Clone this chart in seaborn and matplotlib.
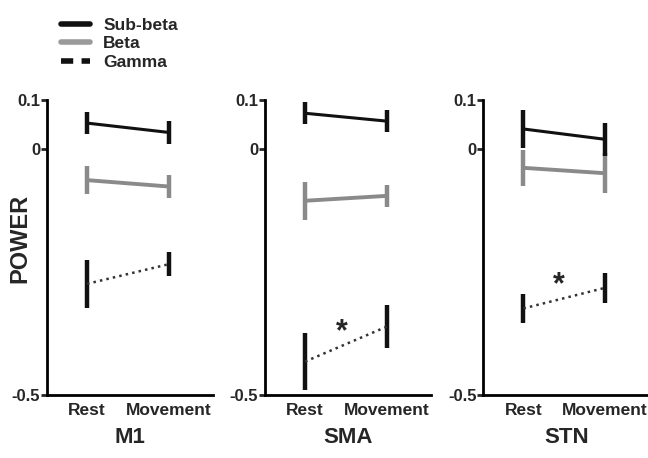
import matplotlib.pyplot as plt
import seaborn as sns
import numpy as np
import pandas as pd
from matplotlib.lines import Line2D

sns.set_style("white")
plt.rcParams['font.family'] = ['Liberation Sans', 'DejaVu Sans']
plt.rcParams['font.weight'] = 'bold'

# Data (mean and half error bar)
regions = ["M1", "SMA", "STN"]
conditions = ["Rest", "Movement"]
bands = ["Sub-beta", "Beta", "Gamma"]

m1_mean = [[0.053, 0.034], [-0.063, -0.076], [-0.274, -0.234]]
m1_err = [[0.022, 0.024], [0.028, 0.024], [0.049, 0.025]]
sma_mean = [[0.073, 0.057], [-0.105, -0.095], [-0.432, -0.361]]
sma_err = [[0.022, 0.023], [0.039, 0.023], [0.058, 0.044]]
stn_mean = [[0.041, 0.020], [-0.038, -0.049], [-0.324, -0.282]]
stn_err = [[0.039, 0.034], [0.037, 0.041], [0.029, 0.031]]

# significance stars: (x in condition units, y value)
stars = {"SMA": (0.45, -0.372), "STN": (0.43, -0.276)}

colors = {"Sub-beta": "#111111", "Beta": "#8a8a8a", "Gamma": "#333333"}
line_w = {"Sub-beta": 2.2, "Beta": 2.8, "Gamma": 1.8}
err_col = {"Sub-beta": "#111111", "Beta": "#8a8a8a", "Gamma": "#111111"}

rows = []
for reg, means, errs in zip(regions, [m1_mean, sma_mean, stn_mean], [m1_err, sma_err, stn_err]):
    for b, mv, ev in zip(bands, means, errs):
        for i, c in enumerate(conditions):
            rows.append({"region": reg, "band": b, "cond": c, "x": i, "power": mv[i], "err": ev[i]})
df = pd.DataFrame(rows)

fig = plt.figure(figsize=(6.48, 4.58), dpi=100)
lefts = [0.0725, 0.409, 0.746]
for k, reg in enumerate(regions):
    ax = fig.add_axes([lefts[k], 0.1376, 0.256, 0.6441])
    sub = df[df.region == reg]
    # error bars first
    for b in ["Gamma", "Beta", "Sub-beta"]:
        d = sub[sub.band == b]
        ax.errorbar(d.x, d.power, yerr=d.err, fmt='none', ecolor=err_col[b],
                    elinewidth=3.2, capsize=0, zorder=2)
    for b in ["Gamma", "Beta", "Sub-beta"]:
        d = sub[sub.band == b]
        sns.lineplot(data=d, x="x", y="power", ax=ax, color=colors[b],
                     linewidth=line_w[b], linestyle=':' if b == "Gamma" else '-',
                     legend=False, zorder=3)
    if reg in stars:
        sx, sy = stars[reg]
        ax.text(sx, sy, "*", fontsize=22, ha='center', va='center', fontweight='bold')
    ax.set_xlim(-0.49, 1.54)
    ax.set_ylim(-0.5, 0.1)
    ax.set_yticks([0.1, 0, -0.5])
    ax.set_yticklabels(["0.1", "0", "-0.5"], fontsize=12, fontweight='bold')
    ax.set_xticks([0, 1])
    ax.set_xticklabels(conditions, fontsize=12.5, fontweight='bold')
    ax.tick_params(axis='y', direction='out', length=4, width=2, left=True, pad=1)
    ax.tick_params(axis='x', length=0, pad=6)
    for s in ["top", "right"]:
        ax.spines[s].set_visible(False)
    for s in ["left", "bottom"]:
        ax.spines[s].set_linewidth(2)
        ax.spines[s].set_color("black")
    ax.set_xlabel(reg, fontsize=16, fontweight='bold', labelpad=6)
    ax.set_ylabel("")

fig.text(20 / 648, 0.48, "POWER", rotation=90, fontsize=17, fontweight='bold',
         ha='center', va='center')

handles = [Line2D([], [], color="#111111", lw=4),
           Line2D([], [], color="#9a9a9a", lw=4),
           Line2D([], [], color="#111111", lw=4, linestyle=(0, (2.2, 1.5)))]
fig.legend(handles, bands, loc='upper left', bbox_to_anchor=(0.075, 0.988),
           frameon=False, prop={'weight': 'bold', 'size': 12.5},
           handlelength=1.7, handletextpad=0.75, labelspacing=0.2, borderpad=0.2)

fig.savefig("out.png", dpi=100)
